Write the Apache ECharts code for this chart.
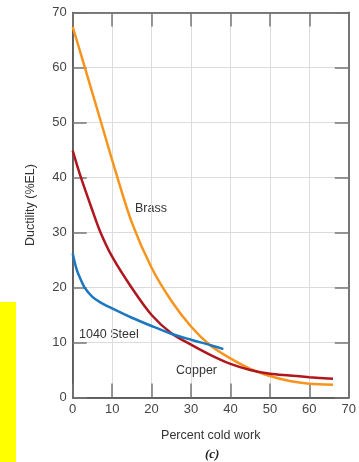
<!DOCTYPE html>
<html>
<head>
<meta charset="utf-8">
<script src="https://cdn.jsdelivr.net/npm/echarts@6/dist/echarts.min.js"></script>
<style>
  html, body { margin: 0; padding: 0; background: #fff; }
  #chart { width: 359px; height: 462px; }
</style>
</head>
<body>
<div id="chart"></div>
<script>
// Ductility (%EL) versus percent cold work for three alloys
var brassX   = [0, 3, 7, 11, 15, 20, 25, 30, 35, 40, 45, 50, 55, 60, 66];
var brassY   = [67.4, 60.2, 50.5, 40.8, 31.8, 23.6, 17.6, 12.9, 9.4, 7.1, 5.2, 3.9, 3.0, 2.5, 2.3];

var copperX  = [0, 2, 5, 7, 10, 15, 20, 25, 30, 35, 40, 45, 50, 55, 60, 66];
var copperY  = [44.9, 40.2, 34.0, 30.1, 25.6, 19.9, 15.0, 11.7, 9.6, 7.7, 6.1, 5.0, 4.3, 4.0, 3.7, 3.4];

var steelX   = [0, 1, 2, 3, 5, 7, 10, 15, 20, 25, 30, 35, 38.2];
var steelY   = [26.2, 23.3, 21.5, 20.0, 18.3, 17.3, 16.2, 14.5, 13.0, 11.6, 10.5, 9.5, 8.8];

var xTicks = [0, 10, 20, 30, 40, 50, 60, 70];
var yTicks = [0, 10, 20, 30, 40, 50, 60, 70];

function pairs(xs, ys) {
  return xs.map(function (x, i) { return [x, ys[i]]; });
}

var FONT = "'Liberation Sans', Arial, sans-serif";
var tickStyle = { show: true, inside: true, length: 14, lineStyle: { color: '#777', width: 1.5 } };
var gridStyle = { show: true, lineStyle: { color: '#dcdcdc', width: 1 } };

var chart = echarts.init(document.getElementById('chart'), null, { renderer: 'canvas' });

function curve(name, xs, ys, color) {
  return {
    name: name,
    type: 'line',
    data: pairs(xs, ys),
    smooth: 0.3,
    symbol: 'none',
    lineStyle: { color: color, width: 2.5 },
    xAxisIndex: 0,
    yAxisIndex: 0,
    z: 3
  };
}

chart.setOption({
  animation: false,
  backgroundColor: '#fff',
  grid: { left: 72.7, right: 2, top: 12.5, bottom: 64.5, containLabel: false },
  xAxis: [
    {
      type: 'value', min: 0, max: 70, interval: 10, position: 'bottom',
      axisLine: { show: true, onZero: false, lineStyle: { color: '#333', width: 1.5 } },
      axisTick: tickStyle,
      splitLine: gridStyle,
      axisLabel: { color: '#444', fontSize: 13, fontFamily: FONT, margin: 5,
        formatter: function (v) { return xTicks.indexOf(v) >= 0 ? String(v) : ''; } },
      name: 'Percent cold work', nameLocation: 'middle', nameGap: 32,
      nameTextStyle: { color: '#333', fontSize: 12.5, fontFamily: FONT }
    },
    {
      type: 'value', min: 0, max: 70, interval: 10, position: 'top',
      axisLine: { show: true, onZero: false, lineStyle: { color: '#555', width: 1.5 } },
      axisTick: tickStyle,
      splitLine: { show: false },
      axisLabel: { show: false }
    }
  ],
  yAxis: [
    {
      type: 'value', min: 0, max: 70, interval: 10, position: 'left',
      axisLine: { show: true, onZero: false, lineStyle: { color: '#333', width: 1.5 } },
      axisTick: tickStyle,
      splitLine: gridStyle,
      axisLabel: { color: '#444', fontSize: 13, fontFamily: FONT, margin: 6,
        formatter: function (v) { return yTicks.indexOf(v) >= 0 ? String(v) : ''; } },
      name: 'Ductility (%EL)', nameLocation: 'middle', nameGap: 36,
      nameTextStyle: { color: '#333', fontSize: 12.5, fontFamily: FONT }
    },
    {
      type: 'value', min: 0, max: 70, interval: 10, position: 'right',
      axisLine: { show: true, onZero: false, lineStyle: { color: '#777', width: 2 } },
      axisTick: tickStyle,
      splitLine: { show: false },
      axisLabel: { show: false }
    }
  ],
  series: [
    curve('Brass', brassX, brassY, '#F7941D'),
    curve('Copper', copperX, copperY, '#B0161E'),
    curve('1040 Steel', steelX, steelY, '#1B78C0')
  ],
  graphic: [
    { type: 'rect', left: 0, top: 302, shape: { width: 16, height: 160 },
      style: { fill: '#FFFF00' }, silent: true },
    { type: 'text', left: 135, top: 202,
      style: { text: 'Brass', fill: '#333', font: '12.5px ' + FONT } },
    { type: 'text', left: 79, top: 328,
      style: { text: '1040 Steel', fill: '#333', font: '12.5px ' + FONT } },
    { type: 'text', left: 176, top: 364,
      style: { text: 'Copper', fill: '#333', font: '12.5px ' + FONT } },
    { type: 'text', left: 205, top: 448,
      style: { text: '(c)', fill: '#222', font: 'italic bold 13px "Liberation Serif", "DejaVu Serif", serif' } }
  ]
});
</script>
</body>
</html>
